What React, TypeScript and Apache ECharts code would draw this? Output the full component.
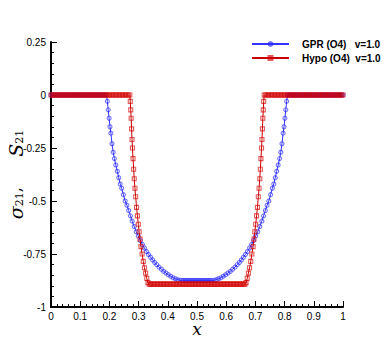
import React, { useEffect, useRef } from "react";
import * as echarts from "echarts";

const seriesNames = ["GPR (O4)   v=1.0", "Hypo (O4)  v=1.0"];
const xTicks = { min: 0, max: 1, interval: 0.1 };
const yTicks = { min: -1, max: 0.25, interval: 0.25 };

const gprData: [number, number][] = [
  [0, 0], [0.005, 0], [0.01, 0], [0.015, 0], [0.02, 0], [0.025, 0], [0.03, 0], [0.035, 0], [0.04, 0], [0.045, 0],
  [0.05, 0], [0.055, 0], [0.06, 0], [0.065, 0], [0.07, 0], [0.075, 0], [0.08, 0], [0.085, 0], [0.09, 0], [0.095, 0],
  [0.1, 0], [0.105, 0], [0.11, 0], [0.115, 0], [0.12, 0], [0.125, 0], [0.13, 0], [0.135, 0], [0.14, 0], [0.145, 0],
  [0.15, 0], [0.155, 0], [0.16, 0], [0.165, 0], [0.17, 0], [0.175, 0], [0.18, 0], [0.185, 0], [0.19, 0],
  [0.193, -0.03], [0.196, -0.07], [0.199, -0.11], [0.202, -0.15], [0.205, -0.18], [0.209, -0.23], [0.213, -0.27],
  [0.217, -0.3], [0.222, -0.33], [0.227, -0.36], [0.232, -0.39], [0.237, -0.42], [0.242, -0.44], [0.248, -0.47],
  [0.254, -0.5], [0.26, -0.52], [0.266, -0.545], [0.272, -0.57], [0.278, -0.595], [0.285, -0.62], [0.292, -0.645],
  [0.299, -0.665], [0.306, -0.686], [0.313, -0.705], [0.32, -0.722], [0.327, -0.738], [0.334, -0.752],
  [0.341, -0.765], [0.348, -0.778], [0.355, -0.79], [0.362, -0.8], [0.37, -0.812], [0.378, -0.822],
  [0.386, -0.832], [0.394, -0.84], [0.402, -0.848], [0.41, -0.855], [0.418, -0.862], [0.426, -0.867],
  [0.434, -0.871], [0.442, -0.874], [0.45, -0.875], [0.455, -0.875], [0.46, -0.875], [0.465, -0.875],
  [0.47, -0.875], [0.475, -0.875], [0.48, -0.875], [0.485, -0.875], [0.49, -0.875], [0.495, -0.875],
  [0.5, -0.875], [0.505, -0.875], [0.51, -0.875], [0.515, -0.875], [0.52, -0.875], [0.525, -0.875],
  [0.53, -0.875], [0.535, -0.875], [0.54, -0.875], [0.545, -0.875], [0.55, -0.875],
  [0.558, -0.874], [0.566, -0.871], [0.574, -0.867], [0.582, -0.862], [0.59, -0.855], [0.598, -0.848],
  [0.606, -0.84], [0.614, -0.832], [0.622, -0.822], [0.63, -0.812], [0.638, -0.8], [0.645, -0.79],
  [0.652, -0.778], [0.659, -0.765], [0.666, -0.752], [0.673, -0.738], [0.68, -0.722], [0.687, -0.705],
  [0.694, -0.686], [0.701, -0.665], [0.708, -0.645], [0.715, -0.62], [0.722, -0.595], [0.728, -0.57],
  [0.734, -0.545], [0.74, -0.52], [0.746, -0.5], [0.752, -0.47], [0.758, -0.44], [0.763, -0.42], [0.768, -0.39],
  [0.773, -0.36], [0.778, -0.33], [0.783, -0.3], [0.787, -0.27], [0.791, -0.23], [0.795, -0.18], [0.798, -0.15],
  [0.801, -0.11], [0.804, -0.07], [0.807, -0.03], [0.81, 0], [0.815, 0], [0.82, 0], [0.825, 0], [0.83, 0],
  [0.835, 0], [0.84, 0], [0.845, 0], [0.85, 0], [0.855, 0], [0.86, 0], [0.865, 0], [0.87, 0], [0.875, 0],
  [0.88, 0], [0.885, 0], [0.89, 0], [0.895, 0], [0.9, 0], [0.905, 0], [0.91, 0], [0.915, 0], [0.92, 0],
  [0.925, 0], [0.93, 0], [0.935, 0], [0.94, 0], [0.945, 0], [0.95, 0], [0.955, 0], [0.96, 0], [0.965, 0],
  [0.97, 0], [0.975, 0], [0.98, 0], [0.985, 0], [0.99, 0], [0.995, 0], [1, 0],
];

const hypoData: [number, number][] = [
  [0, 0], [0.005, 0], [0.01, 0], [0.015, 0], [0.02, 0], [0.025, 0], [0.03, 0], [0.035, 0], [0.04, 0], [0.045, 0],
  [0.05, 0], [0.055, 0], [0.06, 0], [0.065, 0], [0.07, 0], [0.075, 0], [0.08, 0], [0.085, 0], [0.09, 0], [0.095, 0],
  [0.1, 0], [0.105, 0], [0.11, 0], [0.115, 0], [0.12, 0], [0.125, 0], [0.13, 0], [0.135, 0], [0.14, 0], [0.145, 0],
  [0.15, 0], [0.155, 0], [0.16, 0], [0.165, 0], [0.17, 0], [0.175, 0], [0.18, 0], [0.185, 0], [0.19, 0], [0.195, 0],
  [0.2, 0], [0.205, 0], [0.21, 0], [0.215, 0], [0.22, 0], [0.225, 0], [0.23, 0], [0.235, 0], [0.24, 0], [0.245, 0],
  [0.25, 0], [0.255, 0], [0.26, 0], [0.265, 0], [0.27, 0],
  [0.2715, -0.03], [0.273, -0.07], [0.2745, -0.11], [0.276, -0.16], [0.2775, -0.21], [0.279, -0.25],
  [0.281, -0.3], [0.283, -0.35], [0.285, -0.395], [0.2875, -0.44], [0.29, -0.48], [0.293, -0.53],
  [0.296, -0.57], [0.299, -0.61], [0.302, -0.645], [0.305, -0.68], [0.308, -0.715], [0.312, -0.75],
  [0.316, -0.785], [0.32, -0.815], [0.324, -0.84], [0.328, -0.865], [0.332, -0.885], [0.336, -0.892],
  [0.34, -0.892], [0.345, -0.892], [0.35, -0.892], [0.355, -0.892], [0.36, -0.892], [0.365, -0.892],
  [0.37, -0.892], [0.375, -0.892], [0.38, -0.892], [0.385, -0.892], [0.39, -0.892], [0.395, -0.892],
  [0.4, -0.892], [0.405, -0.892], [0.41, -0.892], [0.415, -0.892], [0.42, -0.892], [0.425, -0.892],
  [0.43, -0.892], [0.435, -0.892], [0.44, -0.892], [0.445, -0.892], [0.45, -0.892], [0.455, -0.892],
  [0.46, -0.892], [0.465, -0.892], [0.47, -0.892], [0.475, -0.892], [0.48, -0.892], [0.485, -0.892],
  [0.49, -0.892], [0.495, -0.892], [0.5, -0.892], [0.505, -0.892], [0.51, -0.892], [0.515, -0.892],
  [0.52, -0.892], [0.525, -0.892], [0.53, -0.892], [0.535, -0.892], [0.54, -0.892], [0.545, -0.892],
  [0.55, -0.892], [0.555, -0.892], [0.56, -0.892], [0.565, -0.892], [0.57, -0.892], [0.575, -0.892],
  [0.58, -0.892], [0.585, -0.892], [0.59, -0.892], [0.595, -0.892], [0.6, -0.892], [0.605, -0.892],
  [0.61, -0.892], [0.615, -0.892], [0.62, -0.892], [0.625, -0.892], [0.63, -0.892], [0.635, -0.892],
  [0.64, -0.892], [0.645, -0.892], [0.65, -0.892], [0.655, -0.892], [0.66, -0.892],
  [0.664, -0.892], [0.668, -0.885], [0.672, -0.865],
  [0.676, -0.84], [0.68, -0.815], [0.684, -0.785], [0.688, -0.75], [0.692, -0.715], [0.695, -0.68],
  [0.698, -0.645], [0.701, -0.61], [0.704, -0.57], [0.707, -0.53], [0.71, -0.48], [0.7125, -0.44],
  [0.715, -0.395], [0.717, -0.35], [0.719, -0.3], [0.721, -0.25], [0.7225, -0.21], [0.724, -0.16],
  [0.7255, -0.11], [0.727, -0.07], [0.7285, -0.03], [0.73, 0], [0.735, 0], [0.74, 0], [0.745, 0], [0.75, 0],
  [0.755, 0], [0.76, 0], [0.765, 0], [0.77, 0], [0.775, 0], [0.78, 0], [0.785, 0], [0.79, 0], [0.795, 0],
  [0.8, 0], [0.805, 0], [0.81, 0], [0.815, 0], [0.82, 0], [0.825, 0], [0.83, 0], [0.835, 0], [0.84, 0],
  [0.845, 0], [0.85, 0], [0.855, 0], [0.86, 0], [0.865, 0], [0.87, 0], [0.875, 0], [0.88, 0], [0.885, 0],
  [0.89, 0], [0.895, 0], [0.9, 0], [0.905, 0], [0.91, 0], [0.915, 0], [0.92, 0], [0.925, 0], [0.93, 0],
  [0.935, 0], [0.94, 0], [0.945, 0], [0.95, 0], [0.955, 0], [0.96, 0], [0.965, 0], [0.97, 0], [0.975, 0],
  [0.98, 0], [0.985, 0], [0.99, 0], [0.995, 0], [1, 0],
];

const labelFont = "'Liberation Sans', Arial, sans-serif";
const serifFont = "'DejaVu Serif', 'Liberation Serif', serif";

export default function App() {
  const ref = useRef<HTMLDivElement>(null);
  useEffect(() => {
    if (!ref.current) return;
    const chart = echarts.init(ref.current, undefined, { renderer: "svg" });
    chart.setOption({
      animation: false,
      backgroundColor: "#ffffff",
      grid: { left: 51, right: 47, top: 42, bottom: 40, containLabel: false, outerBoundsMode: "none" },
      legend: {
        orient: "vertical",
        left: 246,
        top: 34,
        itemWidth: 37,
        itemHeight: 5,
        itemGap: 4,
        data: seriesNames,
        textStyle: { fontFamily: labelFont, fontWeight: "bold", fontSize: 10, color: "#000", padding: [0, 0, 0, 8] },
      },
      xAxis: {
        type: "value",
        min: xTicks.min,
        max: xTicks.max,
        interval: xTicks.interval,
        name: "x",
        nameLocation: "middle",
        nameGap: 16,
        nameMoveOverlap: false,
        nameTextStyle: {
          fontFamily: serifFont, fontStyle: "italic", fontSize: 17, color: "#000",
          verticalAlign: "top", lineHeight: 12,
        },
        axisLine: { onZero: false, lineStyle: { color: "#000", width: 2 } },
        axisTick: { inside: true, length: 6, lineStyle: { color: "#000", width: 1 } },
        minorTick: { show: true, splitNumber: 5, length: 3, lineStyle: { color: "#000", width: 1 } },
        axisLabel: { fontFamily: labelFont, fontSize: 10, color: "#000", margin: 4 },
        splitLine: { show: false },
      },
      yAxis: {
        type: "value",
        min: yTicks.min,
        max: yTicks.max,
        interval: yTicks.interval,
        name: "{i|σ}{s|21}{n|,      }{i|S}{s|21}",
        nameLocation: "middle",
        nameRotate: 90,
        nameGap: 26,
        nameMoveOverlap: false,
        nameTextStyle: {
          color: "#000",
          rich: {
            i: { fontFamily: serifFont, fontStyle: "italic", fontSize: 19, color: "#000" },
            n: { fontFamily: serifFont, fontSize: 16, color: "#000" },
            s: { fontFamily: serifFont, fontSize: 11, color: "#000", verticalAlign: "bottom", padding: [6, 0, 0, 0] },
          },
        },
        axisLine: { onZero: false, lineStyle: { color: "#000", width: 2 } },
        axisTick: { inside: true, length: 6, lineStyle: { color: "#000", width: 1 } },
        minorTick: { show: true, splitNumber: 5, length: 3, lineStyle: { color: "#000", width: 1 } },
        axisLabel: { fontFamily: labelFont, fontSize: 10, color: "#000", margin: 5 },
        splitLine: { show: false },
      },
      series: [
        {
          name: seriesNames[0],
          type: "line",
          data: gprData,
          symbol: "circle",
          symbolSize: 4,
          showAllSymbol: true,
          lineStyle: { color: "#3333ff", width: 1 },
          itemStyle: { color: "rgba(0,0,0,0)", borderColor: "rgba(40,40,255,0.65)", borderWidth: 1.1 },
          emphasis: { disabled: true },
          z: 2,
        },
        {
          name: seriesNames[1],
          type: "line",
          data: hypoData,
          symbol: "rect",
          symbolSize: 4,
          showAllSymbol: true,
          lineStyle: { color: "#cc0000", width: 1 },
          itemStyle: { color: "rgba(0,0,0,0)", borderColor: "rgba(210,0,0,0.65)", borderWidth: 1.1 },
          emphasis: { disabled: true },
          z: 3,
        },
      ],
    });
    return () => chart.dispose();
  }, []);
  return <div ref={ref} style={{ width: 390, height: 347, margin: -8 }} />;
}
